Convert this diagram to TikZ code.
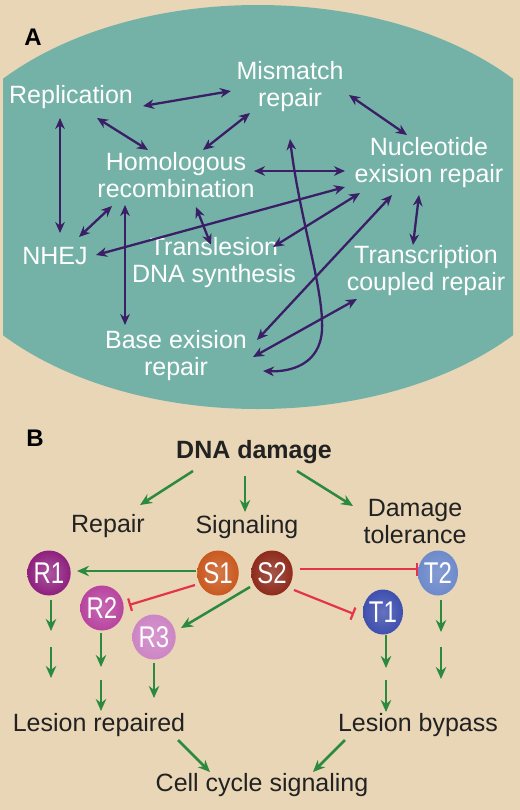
\documentclass[tikz,border=0pt]{standalone}
\usepackage{fontspec}
\setmainfont{Liberation Sans}
\newfontfamily\condfont[FakeStretch=0.8]{Liberation Sans}
\usetikzlibrary{arrows.meta,shapes.geometric,calc}
\definecolor{bgtan}{HTML}{E8D6B6}
\definecolor{tealbg}{HTML}{74B2A8}
\definecolor{apurple}{HTML}{3B1F66}
\definecolor{agreen}{HTML}{2B8A3E}
\definecolor{ared}{HTML}{E5334B}
\definecolor{btxt}{HTML}{222222}
\definecolor{cR1}{HTML}{8E1F7E}
\definecolor{cR2}{HTML}{B8449F}
\definecolor{cR3}{HTML}{CD85C5}
\definecolor{cS1}{HTML}{C9591F}
\definecolor{cS2}{HTML}{8E2B1C}
\definecolor{cT1}{HTML}{3E4FAE}
\definecolor{cT2}{HTML}{6E8ACB}
\begin{document}
\begin{tikzpicture}[x=0.5pt,y=-0.5pt,
  atext/.style={text=white, font=\fontsize{12.5pt}{13.5pt}\selectfont, align=center, inner sep=0pt},
  btext/.style={text=btxt, font=\fontsize{12.5pt}{13.5pt}\selectfont, align=center, inner sep=0pt},
  paneltag/.style={text=black, font=\bfseries\fontsize{12pt}{13.5pt}\selectfont, inner sep=0pt},
  pa/.style={draw=apurple, line width=1.15pt, {Stealth[length=5.5pt,width=4.8pt]}-{Stealth[length=5.5pt,width=4.8pt]}},
  ga/.style={draw=agreen, line width=1.25pt, -{Stealth[length=6pt,width=5.2pt]}},
  ra/.style={draw=ared, line width=1.1pt, -{Bar[width=6.5pt,line width=1.1pt]}},
  ball/.style={ellipse, minimum width=20pt, minimum height=22.5pt, inner sep=0pt, text=white,
    font=\condfont\fontsize{15pt}{15pt}\selectfont},
]
\useasboundingbox (0,0) rectangle (520,810);
\fill[bgtan] (0,0) rectangle (520,810);
\begin{scope}
  \clip (3,0) rectangle (513,420);
  \fill[tealbg] (258,207) ellipse [x radius=165pt, y radius=101pt];
\end{scope}

% ---------- Panel A ----------
\node[paneltag] (tagA) at (33,37) {A};
\node[atext] (rep) at (71,97) {Replication};
\node[atext] (mm) at (290,87) {Mismatch\\repair};
\node[atext] (hr) at (176,175) {Homologous\\recombination};
\node[atext] (ner) at (429,163) {Nucleotide\\exision repair};
\node[atext] (nhej) at (55,256) {NHEJ};
\node[atext] (tls) at (214,263) {Translesion\\DNA synthesis};
\node[atext] (tcr) at (426,271) {Transcription\\coupled repair};
\node[atext] (ber) at (176,356) {Base exision\\repair};

\draw[pa] ($(rep)+(72,9)$) -- ($(mm)+(-59,4)$);
\draw[pa] ($(rep)+(26,21)$) -- ($(hr)+(-28,-25)$);
\draw[pa] ($(mm)+(-40,26)$) -- ($(hr)+(27,-25)$);
\draw[pa] ($(mm)+(59,8)$) -- ($(ner)+(-22,-28)$);
\draw[pa] ($(rep)+(-11,21)$) -- ($(nhej)+(5,-23)$);
\draw[pa] ($(hr)+(78,-4)$) -- ($(ner)+(-84,8)$);
\draw[pa] ($(nhej)+(41,-1)$) -- ($(ner)+(-84,24)$);
\draw[pa] ($(nhej)+(24,-19)$) -- ($(hr)+(-64,31)$);
\draw[pa] ($(hr)+(-51,30)$) -- ($(ber)+(-51,-31)$);
\draw[pa] ($(hr)+(20,32)$) -- ($(tls)+(-3,-18)$);
\draw[pa] ($(ner)+(-69,30)$) -- ($(tls)+(59,-16)$);
\draw[pa] ($(ner)+(-37,32)$) -- ($(ber)+(81,-16)$);
\draw[pa] ($(ner)+(-10,32)$) -- ($(tcr)+(-13,-26)$);
\draw[pa] ($(tcr)+(-69,28)$) -- ($(ber)+(77,1)$);
\coordinate (bend) at (322,330);
\draw[pa] ($(mm)+(0,52)$) .. controls (300,220) and (324,290) .. (bend)
  .. controls (320,365) and (290,372) .. ($(ber)+(87,15)$);

% ---------- Panel B ----------
\node[paneltag] (tagB) at (35,438) {B};
\node[btext, font=\bfseries\fontsize{12.5pt}{13.5pt}\selectfont] (dna) at (254,452) {DNA damage};
\node[btext] (repair) at (108,526) {Repair};
\node[btext] (sig) at (247,527) {Signaling};
\node[btext] (dt) at (415,522) {Damage\\tolerance};

\node[ball, shade, inner color=cR1!75!white, outer color=cR1] (R1) at (49,573) {R1};
\node[ball, shade, inner color=cR2!80!white, outer color=cR2] (R2) at (102,608) {R2};
\node[ball, shade, inner color=cR3!85!white, outer color=cR3] (R3) at (154,637) {R3};
\node[ball, shade, inner color=cS1!80!white, outer color=cS1] (S1) at (218,573) {S1};
\node[ball, shade, inner color=cS2!80!white, outer color=cS2] (S2) at (272,573) {S2};
\node[ball, shade, inner color=cT1!80!white, outer color=cT1] (T1) at (383,612) {T1};
\node[ball, shade, inner color=cT2!85!white, outer color=cT2] (T2) at (438,573) {T2};

\node[btext] (lr) at (99,725) {Lesion repaired};
\node[btext] (lb) at (418,725) {Lesion bypass};
\node[btext] (ccs) at (262,785) {Cell cycle signaling};

\draw[ga] ($(dna)+(-61,19)$) -- ($(repair)+(32,-21)$);
\draw[ga] ($(dna)+(-9,24)$) -- ($(sig)+(-2,-15)$);
\draw[ga] ($(dna)+(43,19)$) -- ($(dt)+(-62,-16)$);

\draw[ga] ($(S1)+(-22,-2)$) -- ($(R1)+(28,-2)$);
\draw[ra] ($(S1)+(-23,12)$) -- ($(R2)+(27,-3)$);
\draw[ga] ($(S2)+(-22,14)$) -- ($(R3)+(27,-9)$);
\draw[ra] ($(S2)+(28,-4)$) -- ($(T2)+(-20,-4)$);
\draw[ra] ($(S2)+(22,17)$) -- ($(T1)+(-29,2)$);

\draw[ga] ($(R1)+(2,27)$) -- ($(R1)+(2,58)$);
\coordinate (r1b) at ($(R1)+(2,74)$);
\draw[ga] (r1b) -- ($(R1)+(2,105)$);
\draw[ga] ($(R2)+(-1,25)$) -- ($(R2)+(-1,59)$);
\coordinate (r2b) at ($(R2)+(-1,72)$);
\draw[ga] (r2b) -- ($(lr)+(2,-14)$);
\draw[ga] ($(R3)+(0,26)$) -- ($(R3)+(0,61)$);
\draw[ga] ($(T1)+(3,23)$) -- ($(T1)+(3,56)$);
\coordinate (t1b) at ($(T1)+(3,68)$);
\draw[ga] (t1b) -- ($(lb)+(-32,-13)$);
\draw[ga] ($(T2)+(3,27)$) -- ($(T2)+(3,59)$);
\coordinate (t2b) at ($(T2)+(3,74)$);
\draw[ga] (t2b) -- ($(T2)+(3,106)$);

\draw[ga] ($(lr)+(79,15)$) -- ($(ccs)+(-52,-13)$);
\draw[ga] ($(lb)+(-73,15)$) -- ($(ccs)+(51,-13)$);
\end{tikzpicture}
\end{document}
